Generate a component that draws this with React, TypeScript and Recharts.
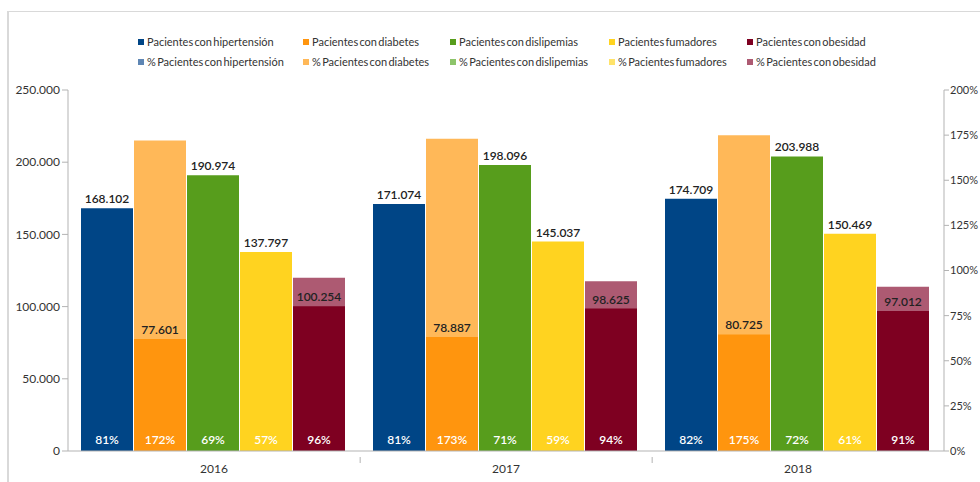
import React from 'react'
import { BarChart, Bar, XAxis, YAxis, LabelList } from 'recharts'

const years = ['2016', '2017', '2018']
const hipertension = [168102, 171074, 174709]
const diabetes = [77601, 78887, 80725]
const dislipemias = [190974, 198096, 203988]
const fumadores = [137797, 145037, 150469]
const obesidad = [100254, 98625, 97012]
const hipertensionPct = [81, 81, 82]
const diabetesPct = [172, 173, 175]
const dislipemiasPct = [69, 71, 72]
const fumadoresPct = [57, 59, 61]
const obesidadPct = [96, 94, 91]
const leftTicks = [0, 50000, 100000, 150000, 200000, 250000]
const rightTicks = [0, 25, 50, 75, 100, 125, 150, 175, 200]

const series = [
  { key: 'hip', name: 'Pacientes con hipertensión', color: '#004586', light: '#5e86b4', values: hipertension, pct: hipertensionPct },
  { key: 'dia', name: 'Pacientes con diabetes', color: '#ff950e', light: '#ffb858', values: diabetes, pct: diabetesPct },
  { key: 'dis', name: 'Pacientes con dislipemias', color: '#579d1c', light: '#8dc46a', values: dislipemias, pct: dislipemiasPct },
  { key: 'fum', name: 'Pacientes fumadores', color: '#ffd320', light: '#ffe36a', values: fumadores, pct: fumadoresPct },
  { key: 'obe', name: 'Pacientes con obesidad', color: '#7e0021', light: '#ad5a72', values: obesidad, pct: obesidadPct },
]

const data = years.map((year, i) => {
  const row: any = { year }
  series.forEach((s) => {
    row[s.key] = s.values[i]
    row[s.key + 'Pct'] = s.pct[i]
  })
  return row
})

const legendCols = [138, 303, 450, 609, 747]
const font = 'Lato, "Open Sans", sans-serif'

const fmt = (v: any) => String(v).replace(/\B(?=(\d{3})+(?!\d))/g, '.')

const PctLabel = (props: any) => {
  const { x, y, width, height, value } = props
  return (
    <text x={x + width / 2} y={y + height - 7} textAnchor="middle" fill="#ffffff" fontSize={12} fontWeight={600} fontFamily={font}>
      {value}%
    </text>
  )
}

const YearTick = (props: any) => {
  const { x, y, payload, index } = props
  const band = 877 / years.length
  return (
    <g>
      <text x={x} y={y + 14} textAnchor="middle" fill="#333" fontSize={12} fontFamily={font}>{payload.value}</text>
      {index < years.length - 1 && <line x1={x + band / 2} x2={x + band / 2} y1={y - 2} y2={y + 4} stroke="#b3b3b3" />}
    </g>
  )
}

export default function App() {
  return (
    <div style={{ position: 'absolute', left: 0, top: 0, width: 980, height: 482, background: '#fff', overflow: 'hidden', fontFamily: font }}>
      <div style={{ position: 'absolute', left: 7, top: 11, width: 1000, height: 500, borderLeft: '2px solid #d9d9d9', borderTop: '1px solid #d9d9d9' }} />
      {[0, 1].map((row) =>
        series.map((s, i) => (
          <div key={row + s.key} style={{ position: 'absolute', left: legendCols[i], top: 35 + row * 20, fontSize: 11, wordSpacing: -1.5, color: '#333', whiteSpace: 'nowrap', display: 'flex', alignItems: 'center' }}>
            <span style={{ display: 'inline-block', width: 6, height: 6, background: row === 0 ? s.color : s.light, marginRight: 3 }} />
            {row === 0 ? s.name : '% ' + s.name}
          </div>
        ))
      )}
      <div style={{ position: 'absolute', left: 0, top: 0 }}>
        <BarChart width={980} height={482} data={data} margin={{ top: 90, right: 0, bottom: 0, left: 0 }} barCategoryGap={13} barGap={1}>
          <XAxis dataKey="year" axisLine={{ stroke: '#b3b3b3' }} tickLine={false} tick={<YearTick />} height={31} interval={0} />
          <XAxis xAxisId="pct" dataKey="year" hide />
          <YAxis yAxisId="left" domain={[0, 250000]} ticks={leftTicks} tickFormatter={fmt} width={68} axisLine={{ stroke: '#b3b3b3' }} tickLine={{ stroke: '#b3b3b3' }} tick={{ fill: '#333', fontSize: 12, fontFamily: font }} />
          <YAxis yAxisId="right" orientation="right" domain={[0, 200]} ticks={rightTicks} tickFormatter={(v) => v + '%'} width={36} tickSize={5} tickMargin={1} axisLine={{ stroke: '#b3b3b3' }} tickLine={{ stroke: '#b3b3b3' }} tick={{ fill: '#333', fontSize: 11, fontFamily: font, textAnchor: 'start' }} />
          {series.map((s) => (
            <Bar key={s.key + 'Pct'} dataKey={s.key + 'Pct'} name={'% ' + s.name} xAxisId="pct" yAxisId="right" fill={s.light} isAnimationActive={false} />
          ))}
          {series.map((s) => (
            <Bar key={s.key} dataKey={s.key} name={s.name} yAxisId="left" fill={s.color} isAnimationActive={false}>
              <LabelList dataKey={s.key} position="top" formatter={fmt} fill="#222" fontSize={12} fontWeight={600} fontFamily={font} />
              <LabelList dataKey={s.key + 'Pct'} content={<PctLabel />} />
            </Bar>
          ))}
        </BarChart>
      </div>
    </div>
  )
}
